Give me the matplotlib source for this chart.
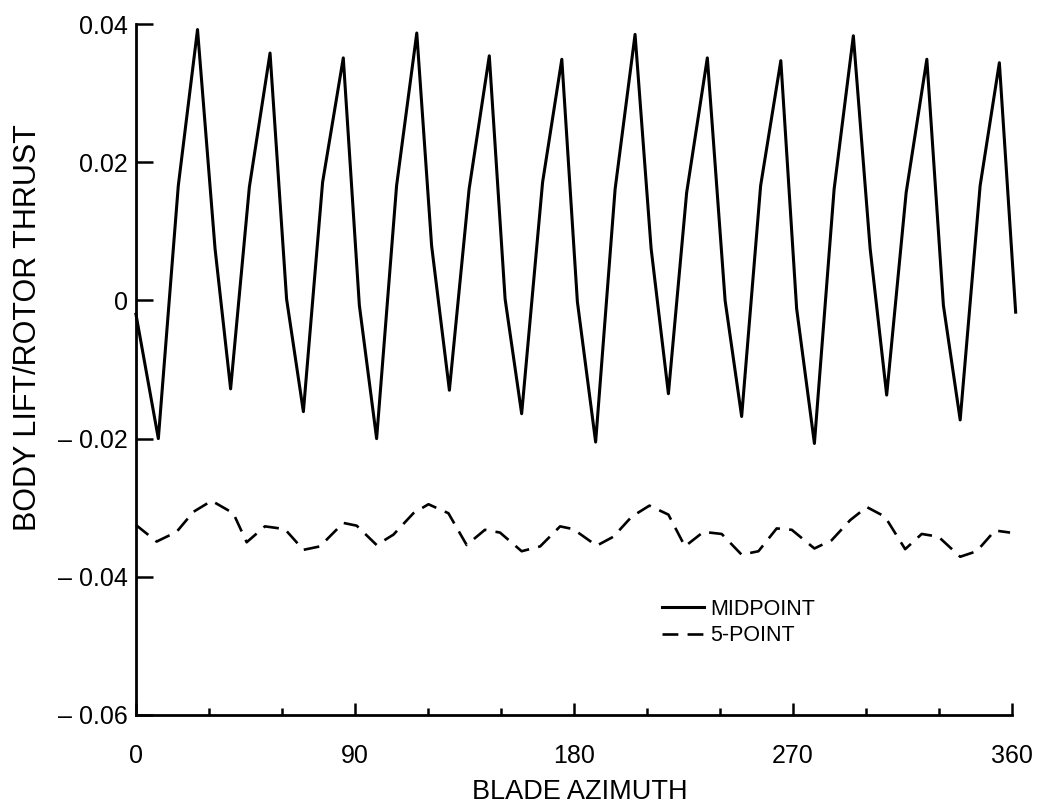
import matplotlib.pyplot as plt
from matplotlib.ticker import FixedLocator

# midpoint rule (solid) - blade azimuth in deg, body lift / rotor thrust
mid_azim = [0, 9.2, 17.4, 25.3, 32.5, 38.9, 46.6, 55.1, 61.9, 68.8, 76.7, 85.2,
            91.8, 98.9, 107.1, 115.4, 121.5, 128.8, 136.9, 145.2, 151.7, 158.5, 167.1, 175.0,
            181.4, 188.9, 196.9, 205.1, 211.7, 218.8, 226.3, 234.8, 242.1, 248.9, 256.7, 265.0,
            271.5, 278.8, 286.9, 294.8, 301.7, 308.5, 316.5, 325.0, 331.8, 338.7, 346.9, 354.8,
            361.5]
mid_val = [-0.002, -0.0200, 0.0166, 0.0392, 0.0075, -0.0128, 0.0164, 0.0358, 0.0002, -0.0161, 0.0171, 0.0351,
           -0.0007, -0.0200, 0.0166, 0.0387, 0.0079, -0.0130, 0.0161, 0.0354, 0.0002, -0.0164, 0.0171, 0.0349,
           -0.0002, -0.0205, 0.0161, 0.0385, 0.0075, -0.0135, 0.0156, 0.0351, 0.0000, -0.0168, 0.0166, 0.0347,
           -0.0012, -0.0207, 0.0161, 0.0383, 0.0075, -0.0137, 0.0156, 0.0349, -0.0007, -0.0173, 0.0166, 0.0344,
           -0.0017]

# 5-point rule (dashed)
five_azim = [0, 8.5, 16.7, 23.6, 31.1, 40.0, 45.5, 53.0, 61.2, 68.8, 75.6, 85.2,
             90.7, 98.9, 105.8, 114.0, 120.2, 128.4, 135.9, 143.4, 149.6, 158.5, 166.1, 174.3,
             179.7, 189.3, 196.2, 203.7, 211.0, 218.8, 225.6, 233.2, 240.7, 248.9, 255.8, 263.3,
             269.5, 278.8, 285.9, 293.5, 300.3, 307.8, 316.1, 322.9, 329.8, 338.7, 345.5, 353.0,
             359.2]
five_val = [-0.0325, -0.0349, -0.0335, -0.0306, -0.0290, -0.0308, -0.0350, -0.0327, -0.0331, -0.0361, -0.0356, -0.0322,
            -0.0326, -0.0354, -0.0339, -0.0308, -0.0295, -0.0308, -0.0354, -0.0332, -0.0336, -0.0363, -0.0356, -0.0327,
            -0.0331, -0.0355, -0.0342, -0.0313, -0.0297, -0.0310, -0.0356, -0.0335, -0.0338, -0.0368, -0.0363, -0.0330,
            -0.0332, -0.0359, -0.0347, -0.0318, -0.0299, -0.0313, -0.0360, -0.0338, -0.0342, -0.0371, -0.0363, -0.0333,
            -0.0336]

y_ticks = [-0.06, -0.04, -0.02, 0, 0.02, 0.04]
y_labels = ["\u2013 0.06", "\u2013 0.04", "\u2013 0.02", "0", "0.02", "0.04"]
x_ticks = [0, 90, 180, 270, 360]
x_minor = [30, 60, 120, 150, 210, 240, 300, 330]

plt.rcParams['font.family'] = ['Liberation Sans', 'DejaVu Sans']

fig = plt.figure(figsize=(10.37, 8.09), dpi=100)
ax = fig.add_axes([0.1311, 0.1162, 0.8448, 0.8541])

ax.plot(mid_azim, mid_val, color="black", linewidth=2.2, clip_on=False, label="MIDPOINT")
ax.plot(five_azim, five_val, color="black", linewidth=1.9, dashes=(6, 3.5), clip_on=False, label="5-POINT")

ax.set_xlim(0, 360)
ax.set_ylim(-0.06, 0.04)

for s in ("top", "right"):
    ax.spines[s].set_visible(False)
for s in ("left", "bottom"):
    ax.spines[s].set_linewidth(2.0)

ax.set_yticks(y_ticks)
ax.set_yticklabels(y_labels)
ax.set_xticks(x_ticks)
ax.xaxis.set_minor_locator(FixedLocator(x_minor))

ax.tick_params(axis="y", direction="in", length=12, width=1.8, pad=6, labelsize=18)
ax.tick_params(axis="x", which="major", direction="in", length=9, width=1.8, pad=21, labelsize=18)
ax.tick_params(axis="x", which="minor", direction="in", length=5, width=1.8)

ax.set_xlabel("BLADE AZIMUTH", fontsize=19.5)
ax.xaxis.set_label_coords(0.507, -0.093)
ax.set_ylabel("BODY LIFT/ROTOR THRUST", fontsize=22)
ax.yaxis.set_label_coords(-0.106, 0.56)

ax.legend(loc="upper left", bbox_to_anchor=(0.601, 0.168), frameon=False, fontsize=15.5,
          handlelength=1.95, handletextpad=0.25, labelspacing=0.25, borderpad=0, borderaxespad=0)

fig.savefig("out.png", dpi=100)
